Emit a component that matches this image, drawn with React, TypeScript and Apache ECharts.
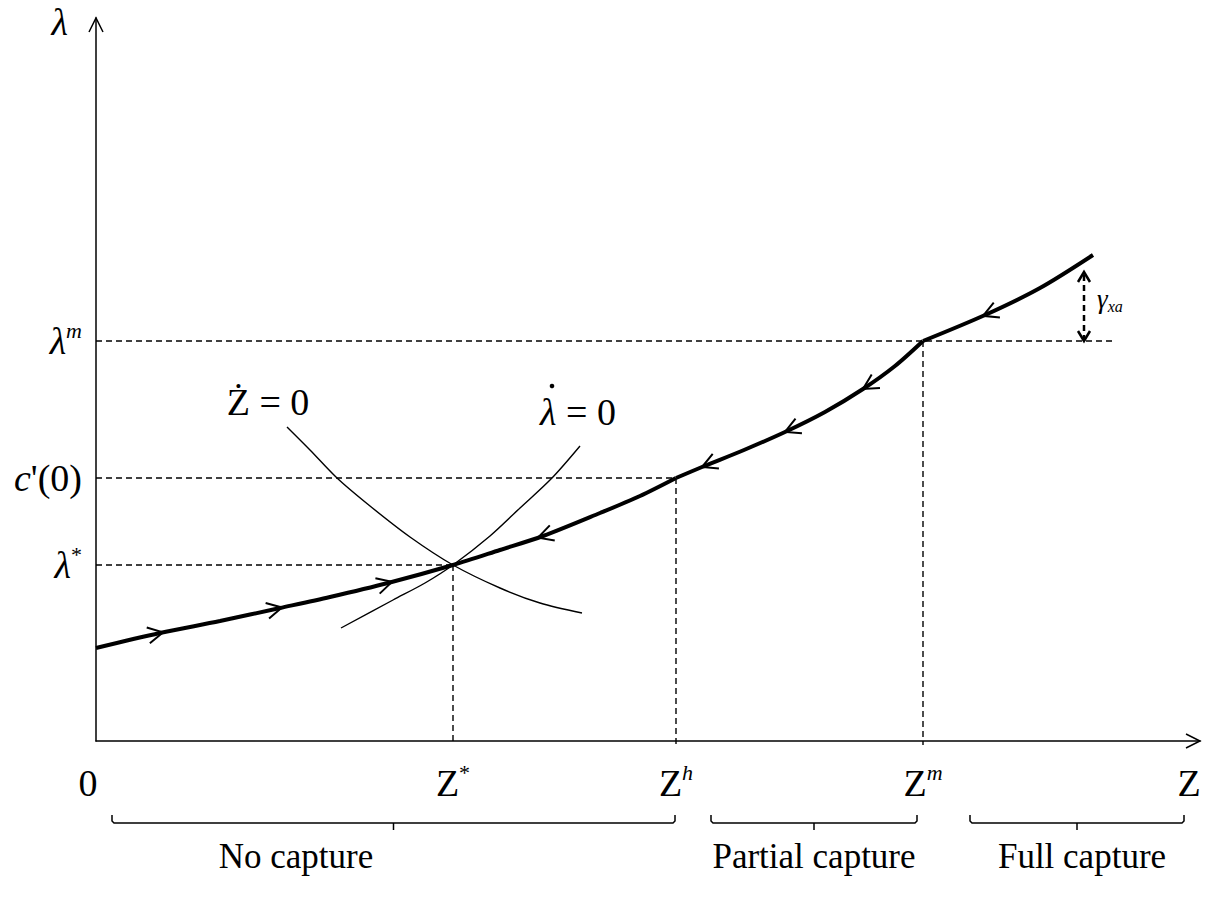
import React, { useEffect, useRef } from "react";
import * as echarts from "echarts";

// Schematic units (arbitrary): horizontal Z, vertical lambda
const X_MAX = 1104;
const Y_MAX = 723;

const zStar = 357;
const zH = 580;
const zM = 827;
const zEnd = 1093;
const lamStar = 176;
const c0 = 263;
const lamM = 400;

// Saddle path, split at Z^h and Z^m
const pathNoCapture = [
  [0, 93], [64, 108], [124, 120], [184, 133], [234, 144], [292, 158], [357, 176],
  [404, 191], [447, 205], [504, 228], [544, 245], [580, 263],
];
const pathPartial = [
  [580, 263], [606, 274], [648, 291], [689, 309], [729, 329], [767, 352], [799, 375], [827, 400],
];
const pathFull = [[827, 400], [889, 426], [944, 453], [997, 486]];
const mainPath = [...pathNoCapture, ...pathPartial.slice(1), ...pathFull.slice(1)];

// Isoclines
const zDotZero = [
  [191, 314], [214, 291], [241, 263], [274, 235], [314, 204], [357, 176], [404, 153], [444, 138], [486, 128],
];
const lamDotZero = [
  [245, 113], [297, 141], [329, 158], [357, 176], [394, 205], [424, 233], [456, 263], [484, 295],
];

// Direction arrows on the saddle path (x positions)
const forwardArrowX = [67, 186, 296];
const backwardArrowX = [442, 606, 689, 767, 887];

// Dashed guides [x1, y1, x2, y2]
const guides = [
  [0, lamStar, zStar, lamStar],
  [0, c0, zH, c0],
  [0, lamM, 1016, lamM],
  [zStar, lamStar, zStar, -4],
  [zH, c0, zH, -4],
  [zM, lamM, zM, -4],
];

// Gamma gap arrow [x, yLow, yHigh]
const gammaArrow = [[988, lamM, 469]];

// Tick labels
const xTickValues = [0, zStar, zH, zM, zEnd];
const xTickLabels = ["{z|0}", "{n|Z}{sup|*}", "{n|Z}{supi|h}", "{n|Z}{supi|m}", "{n|Z}"];
const yTickValues = [lamStar, c0, lamM];
const yTickLabels = ["{v|λ}{sup|*}", "{v|c}{n|'(0)}", "{v|λ}{supi|m}"];

// Regions below the axis [x1, x2]
const braces = [[16, 579], [615, 821], [874, 1088]];
const braceY = -82;
const regionLabels = ["No capture", "Partial capture", "Full capture"];
const regionLabelX = [200, 718, 986];
const regionLabelY = -115;

// Annotations [x, y]
const annotations = [[172, 339], [482, 329], [1001, 442]];
const annotationTexts = ["{n|Ż = 0}", "{v|λ}{n| = 0}", "{g|γ}{gs|xa}"];
const annotationAlign = ["center", "center", "left"];
// dot over lambda in "λ̇ = 0" (offset from text centre, px)
const annotationDot = [null, [-26, -26], null];

const SERIF = "'Liberation Serif', 'Times New Roman', serif";

const rich: any = {
  n: { fontFamily: SERIF, fontSize: 38, color: "#000", lineHeight: 44 },
  z: { fontFamily: SERIF, fontSize: 38, color: "#000", lineHeight: 44, padding: [0, 16, 0, 0] },
  v: { fontFamily: SERIF, fontSize: 38, fontStyle: "italic", color: "#000", lineHeight: 44 },
  sup: { fontFamily: SERIF, fontSize: 22, color: "#000", verticalAlign: "top", lineHeight: 14 },
  supi: { fontFamily: SERIF, fontSize: 22, fontStyle: "italic", color: "#000", verticalAlign: "top", lineHeight: 14 },
  g: { fontFamily: SERIF, fontSize: 27, fontStyle: "italic", color: "#000", lineHeight: 30 },
  gs: { fontFamily: SERIF, fontSize: 16, fontStyle: "italic", color: "#000", verticalAlign: "bottom", lineHeight: 12 },
  r: { fontFamily: SERIF, fontSize: 35, color: "#000", lineHeight: 40 },
};

function chevron(tip: number[], dx: number, dy: number, len: number, half: number) {
  const n = [-dy, dx];
  return [
    [tip[0] - len * dx + half * n[0], tip[1] - len * dy + half * n[1]],
    [tip[0], tip[1]],
    [tip[0] - len * dx - half * n[0], tip[1] - len * dy - half * n[1]],
  ];
}

function interp(x: number) {
  for (let i = 0; i < mainPath.length - 1; i++) {
    const a = mainPath[i];
    const b = mainPath[i + 1];
    if (x >= a[0] && x <= b[0]) {
      const t = (x - a[0]) / (b[0] - a[0]);
      return { y: a[1] + t * (b[1] - a[1]), a, b };
    }
  }
  const a = mainPath[mainPath.length - 2];
  const b = mainPath[mainPath.length - 1];
  return { y: b[1], a, b };
}

export default function App() {
  const ref = useRef<HTMLDivElement>(null);
  useEffect(() => {
    if (!ref.current) return;
    const chart = echarts.init(ref.current, undefined, { renderer: "svg" });
    const lineSeries = (data: number[][], width: number) => ({
      type: "line",
      data,
      smooth: 0.3,
      showSymbol: false,
      symbol: "none",
      lineStyle: { color: "#000", width },
      silent: true,
      z: 3,
    });
    const arrowData = [
      ...forwardArrowX.map((x) => [x, 1]),
      ...backwardArrowX.map((x) => [x, -1]),
    ];
    chart.setOption({
      animation: false,
      backgroundColor: "#fff",
      grid: { left: 96, top: 18, right: 17, bottom: 158, containLabel: false },
      xAxis: {
        type: "value",
        min: 0,
        max: X_MAX,
        axisLine: { show: true, onZero: false, lineStyle: { color: "#000", width: 1.5 } },
        axisTick: { show: false },
        splitLine: { show: false },
        axisLabel: {
          customValues: xTickValues,
          margin: 20,
          formatter: (v: number) => {
            const i = xTickValues.indexOf(v);
            return i >= 0 ? xTickLabels[i] : "";
          },
          rich,
        },
      },
      yAxis: {
        type: "value",
        min: 0,
        max: Y_MAX,
        name: "{v|λ}",
        nameLocation: "end",
        nameGap: -4,
        nameTextStyle: { rich, align: "right", verticalAlign: "middle", padding: [0, 28, 0, 0] },
        axisLine: { show: true, onZero: false, lineStyle: { color: "#000", width: 1.5 } },
        axisTick: { show: false },
        splitLine: { show: false },
        axisLabel: {
          customValues: yTickValues,
          margin: 14,
          formatter: (v: number) => {
            const i = yTickValues.indexOf(v);
            return i >= 0 ? yTickLabels[i] : "";
          },
          rich,
        },
      },
      series: [
        // dashed guides
        {
          type: "custom",
          clip: false,
          silent: true,
          data: guides,
          renderItem: (_p: any, api: any) => {
            const p1 = api.coord([api.value(0), api.value(1)]);
            const p2 = api.coord([api.value(2), api.value(3)]);
            return {
              type: "line",
              shape: { x1: p1[0], y1: p1[1], x2: p2[0], y2: p2[1] },
              style: { stroke: "#000", lineWidth: 1.4, lineDash: [6, 4] },
            };
          },
          z: 1,
        },
        lineSeries(pathNoCapture, 4),
        lineSeries(pathPartial, 4),
        lineSeries(pathFull, 4),
        lineSeries(zDotZero, 1.4),
        lineSeries(lamDotZero, 1.4),
        // path direction arrows
        {
          type: "custom",
          clip: false,
          silent: true,
          data: arrowData,
          renderItem: (_p: any, api: any) => {
            const x = api.value(0);
            const dir = api.value(1);
            const { y, a, b } = interp(x);
            const tip = api.coord([x, y]);
            const pa = api.coord(a);
            const pb = api.coord(b);
            let dx = pb[0] - pa[0];
            let dy = pb[1] - pa[1];
            const L = Math.hypot(dx, dy);
            dx = (dx / L) * dir;
            dy = (dy / L) * dir;
            return {
              type: "polyline",
              shape: { points: chevron(tip, dx, dy, 15, 8) },
              style: { stroke: "#000", fill: "none", lineWidth: 2 },
            };
          },
          z: 4,
        },
        // axis arrowheads
        {
          type: "custom",
          clip: false,
          silent: true,
          data: [[X_MAX, 0, 1, 0], [0, Y_MAX, 0, -1]],
          renderItem: (_p: any, api: any) => {
            const tip = api.coord([api.value(0), api.value(1)]);
            return {
              type: "polyline",
              shape: { points: chevron(tip, api.value(2), api.value(3), 14, 7) },
              style: { stroke: "#000", fill: "none", lineWidth: 1.5 },
            };
          },
          z: 4,
        },
        // gamma gap arrow
        {
          type: "custom",
          clip: false,
          silent: true,
          data: gammaArrow,
          renderItem: (_p: any, api: any) => {
            const lo = api.coord([api.value(0), api.value(1)]);
            const hi = api.coord([api.value(0), api.value(2)]);
            return {
              type: "group",
              children: [
                {
                  type: "line",
                  shape: { x1: lo[0], y1: lo[1], x2: hi[0], y2: hi[1] },
                  style: { stroke: "#000", lineWidth: 2.5, lineDash: [6, 4] },
                },
                {
                  type: "polyline",
                  shape: { points: chevron(hi, 0, -1, 10, 6) },
                  style: { stroke: "#000", fill: "none", lineWidth: 2.5 },
                },
                {
                  type: "polyline",
                  shape: { points: chevron(lo, 0, 1, 10, 6) },
                  style: { stroke: "#000", fill: "none", lineWidth: 2.5 },
                },
              ],
            };
          },
          z: 4,
        },
        // braces below the axis
        {
          type: "custom",
          clip: false,
          silent: true,
          data: braces,
          renderItem: (_p: any, api: any) => {
            const x1 = api.value(0);
            const x2 = api.value(1);
            const mid = (x1 + x2) / 2;
            const p1 = api.coord([x1, braceY]);
            const p2 = api.coord([x2, braceY]);
            const pm = api.coord([mid, braceY]);
            return {
              type: "group",
              children: [
                {
                  type: "polyline",
                  shape: { points: [[p1[0], p1[1] - 8], [p1[0], p1[1] - 2], [p1[0] + 2, p1[1]], [p2[0] - 2, p2[1]], [p2[0], p2[1] - 2], [p2[0], p2[1] - 8]] },
                  style: { stroke: "#000", fill: "none", lineWidth: 1.5 },
                },
                {
                  type: "line",
                  shape: { x1: pm[0], y1: pm[1], x2: pm[0], y2: pm[1] + 7 },
                  style: { stroke: "#000", lineWidth: 1.5 },
                },
              ],
            };
          },
        },
        // region labels
        {
          type: "custom",
          clip: false,
          silent: true,
          data: regionLabelX.map((x) => [x, regionLabelY]),
          renderItem: (p: any, api: any) => {
            const pt = api.coord([api.value(0), api.value(1)]);
            return {
              type: "text",
              x: pt[0],
              y: pt[1],
              style: {
                text: "{r|" + regionLabels[p.dataIndex] + "}",
                rich,
                align: "center",
                verticalAlign: "middle",
              },
            };
          },
        },
        // annotations
        {
          type: "custom",
          clip: false,
          silent: true,
          data: annotations,
          renderItem: (p: any, api: any) => {
            const pt = api.coord([api.value(0), api.value(1)]);
            const children: any[] = [
              {
                type: "text",
                x: pt[0],
                y: pt[1],
                style: {
                  text: annotationTexts[p.dataIndex],
                  rich,
                  align: annotationAlign[p.dataIndex],
                  verticalAlign: "middle",
                },
              },
            ];
            const d = annotationDot[p.dataIndex];
            if (d) {
              children.push({
                type: "circle",
                shape: { cx: pt[0] + d[0], cy: pt[1] + d[1], r: 2.3 },
                style: { fill: "#000" },
              });
            }
            return { type: "group", children };
          },
        },
      ],
    });
    return () => chart.dispose();
  }, []);
  return (
    <div
      ref={ref}
      style={{ position: "absolute", left: 0, top: 0, width: 1217, height: 899, background: "#fff" }}
    />
  );
}
